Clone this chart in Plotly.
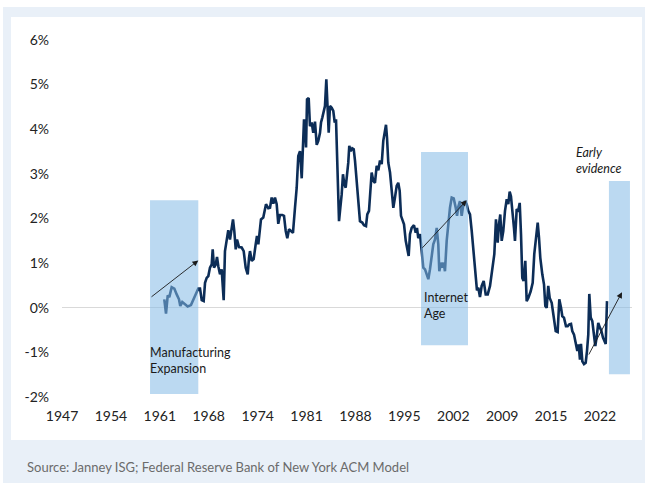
import numpy as np
import plotly.graph_objects as go

# 10-year term premium (ACM model), % — fractional year and value
years = [
    1961.26, 1961.50, 1961.74, 1961.96, 1962.29, 1962.66, 1962.99, 1963.31, 1963.49, 1963.77,
    1964.15, 1964.52, 1964.98, 1965.30, 1965.64, 1966.00, 1966.24, 1966.48, 1966.75, 1966.94,
    1967.17, 1967.40, 1967.63, 1967.87, 1968.01, 1968.19, 1968.43, 1968.61, 1968.79, 1969.03,
    1969.26, 1969.54, 1969.72, 1969.96, 1970.18, 1970.42, 1970.66, 1970.84, 1971.02, 1971.22,
    1971.40, 1971.68, 1972.05, 1972.33, 1972.61, 1972.89, 1973.07, 1973.21, 1973.45, 1973.72,
    1974.00, 1974.18, 1974.37, 1974.60, 1974.74, 1975.06, 1975.30, 1975.44, 1975.76, 1976.00,
    1976.23, 1976.46, 1976.69, 1976.93, 1977.15, 1977.39, 1977.71, 1977.95, 1978.19, 1978.41,
    1978.65, 1978.92, 1979.20, 1979.48, 1979.72, 1979.94, 1980.18, 1980.42, 1980.56, 1980.74,
    1980.88, 1981.02, 1981.16, 1981.39, 1981.57, 1981.81, 1982.03, 1982.27, 1982.51, 1982.73,
    1982.97, 1983.11, 1983.29, 1983.48, 1983.66, 1983.85, 1983.99, 1984.18, 1984.36, 1984.60,
    1984.82, 1985.02, 1985.20, 1985.44, 1985.62, 1985.80, 1985.99, 1986.17, 1986.36, 1986.55,
    1986.73, 1986.91, 1987.05, 1987.25, 1987.47, 1987.67, 1987.85, 1988.08, 1988.31, 1988.54,
    1988.86, 1989.10, 1989.38, 1989.56, 1989.80, 1989.98, 1990.17, 1990.40, 1990.63, 1990.87,
    1991.10, 1991.33, 1991.57, 1991.79, 1992.03, 1992.17, 1992.31, 1992.49, 1992.73, 1992.96,
    1993.19, 1993.42, 1993.66, 1993.88, 1994.08, 1994.26, 1994.44, 1994.68, 1994.92, 1995.14,
    1995.33, 1995.51, 1995.75, 1996.07, 1996.31, 1996.49, 1996.67, 1996.91, 1997.14, 1997.37,
    1997.61, 1997.84, 1998.07, 1998.30, 1998.54, 1998.76, 1999.00, 1999.24, 1999.46, 1999.60,
    1999.84, 2000.02, 2000.21, 2000.39, 2000.63, 2000.85, 2001.09, 2001.33, 2001.61, 2001.89,
    2002.07, 2002.25, 2002.48, 2002.72, 2002.95, 2003.18, 2003.42, 2003.64, 2003.88, 2004.12,
    2004.39, 2004.67, 2004.85, 2005.04, 2005.27, 2005.51, 2005.79, 2006.07, 2006.35, 2006.67,
    2006.99, 2007.27, 2007.50, 2007.74, 2007.92, 2008.10, 2008.30, 2008.52, 2008.76, 2009.00,
    2009.22, 2009.41, 2009.59, 2009.78, 2010.01, 2010.15, 2010.39, 2010.61, 2010.81, 2010.99,
    2011.17, 2011.36, 2011.59, 2011.78, 2012.01, 2012.34, 2012.62, 2012.84, 2013.08, 2013.32,
    2013.50, 2013.68, 2013.96, 2014.20, 2014.38, 2014.57, 2014.79, 2014.99, 2015.27, 2015.55,
    2015.83, 2016.10, 2016.33, 2016.57, 2016.75, 2016.98, 2017.26, 2017.50, 2017.72, 2017.96,
    2018.14, 2018.38, 2018.61, 2018.84, 2019.03, 2019.21, 2019.35, 2019.54, 2019.77, 2020.01,
    2020.19, 2020.37, 2020.51, 2020.71, 2020.93, 2021.12, 2021.35, 2021.58, 2021.76, 2022.00,
    2022.18, 2022.42, 2022.60, 2022.80, 2022.98,
]
term_premium = [
    0.19, -0.13, 0.28, 0.24, 0.46, 0.43, 0.30, 0.19, 0.04, 0.13,
    0.08, 0.03, 0.06, 0.19, 0.30, 0.43, 0.43, 0.17, 0.15, 0.56,
    0.67, 0.71, 0.90, 0.97, 1.31, 0.90, 0.97, 1.14, 0.93, 0.75,
    0.86, 0.17, 1.27, 1.57, 1.74, 1.53, 1.83, 1.98, 1.72, 1.31,
    1.53, 1.36, 1.35, 1.27, 0.90, 0.75, 1.12, 1.27, 1.05, 1.09,
    1.42, 1.61, 1.42, 1.72, 1.98, 2.02, 2.24, 2.32, 2.23, 2.24,
    2.47, 2.33, 2.47, 2.32, 1.88, 2.08, 2.08, 2.06, 1.72, 1.56,
    1.76, 1.72, 1.68, 2.24, 2.69, 3.40, 3.51, 2.90, 3.51, 4.22,
    4.04, 3.59, 4.67, 4.70, 4.07, 4.15, 3.92, 4.17, 3.65, 3.74,
    3.92, 4.15, 4.26, 4.37, 4.52, 5.12, 4.48, 3.92, 4.52, 4.48,
    4.41, 4.15, 4.22, 3.14, 1.94, 2.24, 2.54, 2.99, 2.77, 2.69,
    2.91, 3.25, 3.63, 3.51, 3.57, 3.55, 3.29, 2.84, 2.39, 1.94,
    1.91, 1.85, 1.83, 2.09, 2.17, 2.62, 3.03, 2.84, 2.80, 3.18,
    3.08, 3.30, 3.22, 3.74, 4.04, 4.10, 3.81, 3.25, 3.03, 2.54,
    2.24, 2.47, 2.73, 2.80, 2.62, 2.06, 1.98, 1.87, 1.50, 1.35,
    1.16, 1.65, 1.79, 1.85, 1.68, 1.79, 1.56, 1.65, 1.31, 0.90,
    0.86, 0.75, 0.64, 0.86, 1.23, 1.42, 1.53, 1.79, 1.42, 0.82,
    1.01, 0.90, 1.01, 0.82, 1.50, 1.94, 2.24, 2.47, 2.45, 2.24,
    2.06, 2.26, 2.39, 2.06, 2.32, 2.39, 2.32, 2.17, 2.09, 1.72,
    1.27, 0.82, 0.39, 0.45, 0.24, 0.49, 0.60, 0.30, 0.30, 0.49,
    0.82, 1.20, 1.98, 1.46, 1.87, 2.09, 1.50, 1.72, 2.17, 2.43,
    2.32, 2.60, 2.50, 2.24, 1.79, 1.50, 2.21, 2.18, 2.35, 1.65,
    0.67, 0.60, 1.05, 0.15, 0.22, 0.37, 0.56, 1.20, 1.57, 1.91,
    1.57, 1.12, 0.75, 0.52, 0.04, 0.00, 0.49, 0.22, 0.11, -0.22,
    -0.52, -0.54, 0.19, 0.00, -0.19, -0.22, -0.41, -0.41, -0.37, -0.36,
    -0.52, -0.60, -0.75, -0.97, -0.82, -1.16, -0.81, -1.20, -1.26, -1.23,
    -0.97, -0.60, 0.31, -0.22, -0.30, -0.60, -0.86, -0.60, -0.34, -0.45,
    -0.51, -0.67, -0.76, -0.81, 0.15,
]

# x-axis tick labels (evenly spaced date ticks)
tick_labels = ["1947", "1954", "1961", "1968", "1974", "1981",
               "1988", "1995", "2002", "2009", "2015", "2022"]
tick_positions = np.linspace(1947, 2022, len(tick_labels))

y_ticks = [-2, -1, 0, 1, 2, 3, 4, 5, 6]
y_tick_labels = [f"{v}%" for v in y_ticks]

# highlighted eras: (start year, end year, low %, high %)
era_manufacturing = (1959.27, 1966.00, -1.93, 2.41)
era_internet = (1997.05, 2003.60, -0.84, 3.49)
era_recent = (2023.25, 2026.18, -1.49, 2.84)

# trend arrows: (tail year, tail %, head year, head %)
arrow_manufacturing = (1959.27, 0.22, 1966.00, 1.06)
arrow_internet = (1997.05, 1.31, 2003.42, 2.41)
arrow_recent = (2020.33, -1.08, 2025.07, 0.35)

source_note = "Source: Janney ISG; Federal Reserve Bank of New York ACM Model"

# ---- layout geometry ----
W, H = 645, 483
ML, MR, MT, MB = 62, 13, 31, 77
PW, PH = W - ML - MR, H - MT - MB


def fx(px):
    """Pixel x -> paper x."""
    return (px - ML) / PW


def fy(py):
    """Pixel y (from top) -> paper y."""
    return (H - MB - py) / PH


FONT = "Lato, 'Open Sans', sans-serif"
NAVY = "#0c2d57"
ERA_FILL = "rgba(132,185,230,0.55)"

fig = go.Figure()
fig.add_trace(go.Scatter(
    x=years, y=term_premium, mode="lines",
    line=dict(color=NAVY, width=2.6),
    hoverinfo="skip", showlegend=False,
))

shapes = [
    # outer frame and white panel
    dict(type="rect", xref="paper", yref="paper", layer="below",
         x0=fx(3), x1=fx(645), y0=fy(483), y1=fy(7),
         fillcolor="#e9f0f8", line_width=0),
    dict(type="rect", xref="paper", yref="paper", layer="below",
         x0=fx(11), x1=fx(642), y0=fy(440), y1=fy(17),
         fillcolor="white", line_width=0),
]
for x0, x1, lo, hi in (era_manufacturing, era_internet, era_recent):
    shapes.append(dict(type="rect", xref="x", yref="y", layer="above",
                       x0=x0, x1=x1, y0=lo, y1=hi,
                       fillcolor=ERA_FILL, line_width=0))

annotations = []
for tx, ty, hx, hy in (arrow_manufacturing, arrow_internet, arrow_recent):
    annotations.append(dict(
        x=hx, y=hy, ax=tx, ay=ty, xref="x", yref="y", axref="x", ayref="y",
        text="", showarrow=True, arrowhead=2, arrowsize=1.3, arrowwidth=0.9,
        arrowcolor="#1a1a1a",
    ))


def label(x, y, text, italic=False):
    annotations.append(dict(
        x=x, y=y, xref="x", yref="y", text=f"<i>{text}</i>" if italic else text,
        showarrow=False, xanchor="left", yanchor="middle", align="left",
        font=dict(family=FONT, size=12.5, color="#1a1a1a"),
    ))


label(1958.99, -1.19, "Manufacturing<br>Expansion")
label(1997.19, 0.06, "Internet<br>Age")
label(2018.38, 3.31, "Early<br>evidence", italic=True)

annotations.append(dict(
    x=fx(25), y=fy(467), xref="paper", yref="paper", text=source_note,
    showarrow=False, xanchor="left", yanchor="middle",
    font=dict(family=FONT, size=13, color="#6b6b6b"),
))

fig.update_layout(
    width=W, height=H,
    margin=dict(l=ML, r=MR, t=MT, b=MB, pad=0),
    paper_bgcolor="white", plot_bgcolor="rgba(0,0,0,0)",
    font=dict(family=FONT, size=14, color="#222222"),
    shapes=shapes, annotations=annotations, showlegend=False,
    xaxis=dict(
        range=[1947, 1947 + PW / 7.173], tickmode="array",
        tickvals=tick_positions, ticktext=tick_labels,
        showgrid=False, zeroline=False, showline=False, ticks="",
        tickfont=dict(size=14, color="#222222"),
    ),
    yaxis=dict(
        range=[-2.2, 6.2], tickmode="array", tickvals=y_ticks,
        ticktext=y_tick_labels, showgrid=False, zeroline=True,
        zerolinecolor="#d9d9d9", zerolinewidth=1, showline=False, ticks="",
        ticklabelstandoff=12, tickfont=dict(size=14, color="#222222"),
    ),
)

fig.write_html("out.html")
